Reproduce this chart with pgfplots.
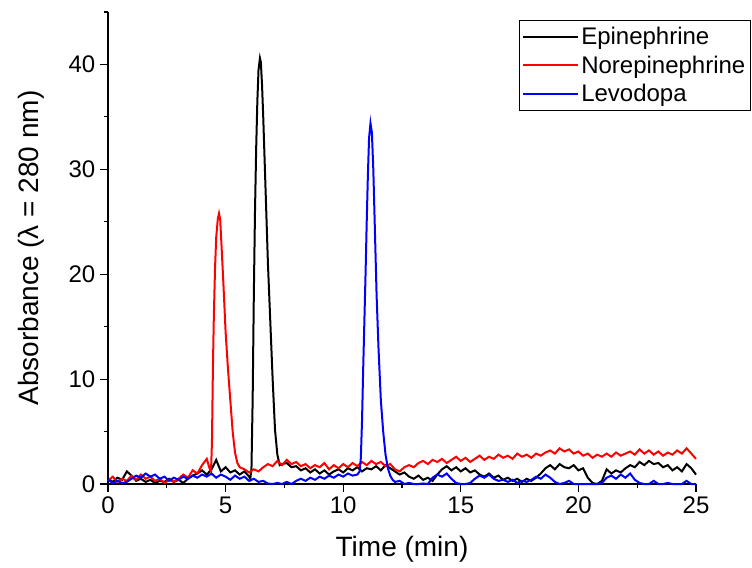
\documentclass[border=0pt]{standalone}
\usepackage{fontspec}
\setmainfont{Liberation Sans}
\usepackage{pgfplots}
\pgfplotsset{compat=1.18}
\begin{document}
\begin{tikzpicture}
\path[use as bounding box] (-81pt,-62.25pt) rectangle (483pt,363pt);
\begin{axis}[
  scale only axis, width=441pt, height=354pt,
  xmin=0, xmax=25, ymin=0, ymax=45,
  axis x line*=bottom, axis y line*=left,
  xtick={0,5,...,25}, ytick={0,10,...,40},
  minor xtick={2.5,7.5,...,22.5}, minor ytick={5,15,...,45},
  tick align=outside, major tick length=6pt, minor tick length=3pt,
  tick style={black, line width=0.9pt},
  axis line style={line width=0.9pt},
  /pgf/number format/assume math mode=true,
  ticklabel style={font=\fontsize{18}{18}\selectfont},
  label style={font=\fontsize{21}{21}\selectfont},
  xlabel={Time (min)}, ylabel={Absorbance (λ = 280 nm)},
  xlabel style={at={(axis description cs:0.5,-0.138)}, anchor=center},
  ylabel style={at={(axis description cs:-0.131,0.5)}, anchor=center},
  clip=false,
  legend cell align=left,
  legend style={at={(1.0935,0.983)}, anchor=north east,
    font=\fontsize{18}{18}\selectfont, inner xsep=2pt, inner ysep=3pt, row sep=3pt},
  legend image post style={xscale=2.4, line width=1.6pt},
]
\addplot[black, line width=1.5pt] coordinates {
(0,0.5)(0.2,0.2)(0.4,0.6)(0.6,0.4)(0.8,1.2)(1.0,0.8)(1.2,0.3)(1.4,0.5)(1.6,0.2)(1.8,0.4)
(2.0,0.1)(2.2,0.3)(2.4,0.2)(2.6,0.5)(2.8,0.2)(3.0,0.4)(3.2,0.1)(3.4,0.5)(3.6,0.8)(3.8,1.0)
(4.0,1.3)(4.2,0.9)(4.4,1.4)(4.6,2.3)(4.8,1.2)(5.0,1.6)(5.2,1.1)(5.4,1.3)(5.6,0.9)(5.8,1.2)
(6.0,0.7)(6.05,0.5)(6.1,1.5)(6.15,8)(6.2,18)(6.25,26)(6.3,32)(6.35,36.5)(6.4,39.5)(6.46,40.6)
(6.5,40.2)(6.55,38)(6.6,35)(6.7,28)(6.8,21)(6.9,15.5)(7.0,10)(7.1,5.2)(7.2,2.8)(7.3,1.8)
(7.4,1.9)(7.6,2.0)(7.8,1.6)(8.0,1.7)(8.2,1.3)(8.4,1.5)(8.6,1.1)(8.8,1.4)(9.0,1.0)(9.2,1.3)
(9.4,0.9)(9.6,1.2)(9.8,1.4)(10.0,1.1)(10.2,1.5)(10.4,1.3)(10.6,1.6)(10.8,1.2)(11.0,1.5)(11.2,1.4)
(11.4,1.7)(11.6,1.3)(11.8,1.8)(12.0,1.5)(12.2,1.2)(12.4,0.9)(12.6,1.1)(12.8,0.7)(13.0,0.5)(13.2,0.8)
(13.4,0.4)(13.6,0.6)(13.8,0.3)(14.0,0.9)(14.2,1.4)(14.4,1.7)(14.6,1.3)(14.8,1.6)(15.0,1.2)(15.2,1.5)
(15.4,1.1)(15.6,1.3)(15.8,0.9)(16.0,0.7)(16.2,1.0)(16.4,0.6)(16.6,0.8)(16.8,0.4)(17.0,0.6)(17.2,0.3)
(17.4,0.5)(17.6,0.2)(17.8,0.5)(18.0,0.3)(18.2,0.6)(18.4,1.0)(18.6,1.5)(18.8,1.8)(19.0,1.4)(19.2,1.9)
(19.4,1.6)(19.6,1.5)(19.8,1.8)(20.0,1.3)(20.2,1.5)(20.4,0.6)(20.6,0.1)(20.8,0.0)(21.0,0.3)(21.2,1.4)
(21.4,1.0)(21.6,1.3)(21.8,1.1)(22.0,1.5)(22.2,1.8)(22.4,1.6)(22.6,2.1)(22.8,1.8)(23.0,2.2)(23.2,1.9)
(23.4,2.0)(23.6,1.6)(23.8,1.8)(24.0,1.3)(24.2,1.6)(24.4,1.2)(24.6,1.9)(24.8,1.5)(25.0,0.9)
};
\addlegendentry{Epinephrine}
\addplot[red, line width=1.5pt] coordinates {
(0,0.3)(0.2,0.7)(0.4,0.2)(0.6,0.5)(0.8,0.3)(1.0,0.8)(1.2,0.4)(1.4,0.9)(1.6,0.5)(1.8,0.7)
(2.0,0.3)(2.2,0.5)(2.4,0.1)(2.6,0.4)(2.8,0.2)(3.0,0.5)(3.2,0.9)(3.4,0.6)(3.6,1.3)(3.8,1.0)
(4.0,1.8)(4.2,2.4)(4.3,1.6)(4.38,1.2)(4.42,4)(4.46,11)(4.5,16)(4.55,20.5)(4.6,23.5)(4.67,25.3)
(4.72,25.8)(4.77,25.2)(4.82,23)(4.9,19.4)(5.0,14.5)(5.1,11)(5.2,8)(5.3,5)(5.4,3.0)(5.5,2.0)
(5.6,1.6)(5.8,1.4)(6.0,1.1)(6.2,1.4)(6.4,1.2)(6.6,1.6)(6.8,1.9)(7.0,1.7)(7.2,2.2)(7.4,1.8)
(7.6,2.3)(7.8,1.9)(8.0,2.1)(8.2,1.7)(8.4,1.9)(8.6,1.5)(8.8,1.8)(9.0,1.6)(9.2,2.0)(9.4,1.4)
(9.6,1.8)(9.8,1.5)(10.0,1.9)(10.2,1.6)(10.4,2.0)(10.6,1.7)(10.8,2.1)(11.0,1.8)(11.2,2.2)(11.4,1.9)
(11.6,2.1)(11.8,1.7)(12.0,1.9)(12.2,1.4)(12.4,1.2)(12.6,1.6)(12.8,1.8)(13.0,1.6)(13.2,2.0)(13.4,2.2)
(13.6,1.9)(13.8,2.3)(14.0,2.1)(14.2,2.4)(14.4,2.0)(14.6,2.3)(14.8,2.6)(15.0,2.2)(15.2,2.5)(15.4,2.1)
(15.6,2.4)(15.8,2.7)(16.0,2.3)(16.2,2.6)(16.4,2.4)(16.6,2.8)(16.8,2.5)(17.0,2.7)(17.2,2.4)(17.4,2.9)
(17.6,2.6)(17.8,2.8)(18.0,2.5)(18.2,2.9)(18.4,2.7)(18.6,3.0)(18.8,3.2)(19.0,2.9)(19.2,3.4)(19.4,3.1)
(19.6,3.3)(19.8,2.9)(20.0,3.1)(20.2,2.7)(20.4,2.9)(20.6,2.5)(20.8,2.8)(21.0,2.6)(21.2,2.9)(21.4,2.6)
(21.6,3.0)(21.8,2.7)(22.0,2.9)(22.2,3.1)(22.4,2.8)(22.6,3.3)(22.8,2.9)(23.0,3.2)(23.2,2.8)(23.4,3.1)
(23.6,2.7)(23.8,3.0)(24.0,2.8)(24.2,3.2)(24.4,2.9)(24.6,3.4)(24.8,2.9)(25.0,2.4)
};
\addlegendentry{Norepinephrine}
\addplot[blue, line width=1.5pt] coordinates {
(0,0.4)(0.2,0.1)(0.4,0.3)(0.6,0.1)(0.8,0.2)(1.0,0.5)(1.2,0.8)(1.4,0.6)(1.6,1.0)(1.8,0.7)
(2.0,0.9)(2.2,0.5)(2.4,0.7)(2.6,0.3)(2.8,0.6)(3.0,0.4)(3.2,0.7)(3.4,0.5)(3.6,0.8)(3.8,0.6)
(4.0,0.9)(4.2,0.7)(4.4,1.0)(4.6,0.6)(4.8,0.9)(5.0,0.7)(5.2,0.4)(5.4,0.8)(5.6,0.5)(5.8,0.7)
(6.0,0.3)(6.2,0.5)(6.4,0.2)(6.6,0.3)(6.8,0.05)(7.0,0.0)(7.2,0.1)(7.4,0.0)(7.6,0.2)(7.8,0.0)
(8.0,0.3)(8.2,0.5)(8.4,0.3)(8.6,0.6)(8.8,0.4)(9.0,0.7)(9.2,0.5)(9.4,0.8)(9.6,0.6)(9.8,0.9)
(10.0,0.7)(10.2,1.0)(10.4,0.8)(10.6,0.9)(10.7,1.2)(10.75,2.5)(10.8,6)(10.85,11)(10.9,15.5)(10.95,20)
(11.0,25)(11.05,29.5)(11.1,33)(11.16,34.4)(11.22,33.5)(11.28,30)(11.35,24)(11.42,18)(11.5,13)(11.6,8)
(11.7,5)(11.8,2.8)(11.9,1.5)(12.0,0.8)(12.1,0.4)(12.2,0.2)(12.4,0.3)(12.6,0.0)(12.8,0.1)(13.0,0.0)
(13.2,0.0)(13.4,0.05)(13.6,0.0)(13.8,0.6)(14.0,0.9)(14.2,0.7)(14.4,1.0)(14.6,0.5)(14.8,0.1)(15.0,0.0)
(15.2,0.0)(15.4,0.1)(15.6,0.5)(15.8,0.8)(16.0,0.6)(16.2,0.9)(16.4,0.5)(16.6,0.3)(16.8,0.4)(17.0,0.2)
(17.2,0.4)(17.4,0.1)(17.6,0.3)(17.8,0.2)(18.0,0.4)(18.2,0.7)(18.4,0.5)(18.6,0.9)(18.8,0.6)(19.0,0.2)
(19.2,0.0)(19.4,0.1)(19.6,0.3)(19.8,0.0)(20.0,0.0)(20.2,0.0)(20.4,0.0)(20.6,0.0)(20.8,0.0)(21.0,0.1)
(21.2,0.6)(21.4,0.8)(21.6,0.5)(21.8,0.9)(22.0,0.6)(22.2,1.0)(22.4,0.4)(22.6,0.1)(22.8,0.0)(23.0,0.0)
(23.2,0.3)(23.4,0.0)(23.6,0.0)(23.8,0.1)(24.0,0.0)(24.2,0.0)(24.4,0.0)(24.6,0.3)(24.8,0.0)(25.0,0.0)
};
\addlegendentry{Levodopa}
\end{axis}
\end{tikzpicture}
\end{document}
